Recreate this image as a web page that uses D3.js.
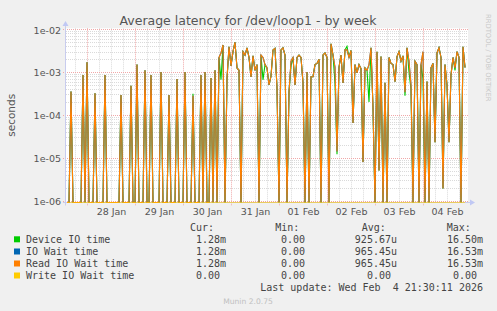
<!DOCTYPE html>
<html>
<head>
<meta charset="utf-8">
<script src="https://cdn.jsdelivr.net/npm/d3@7"></script>
<style>
body { margin: 0; background: #f0f0f0; }
svg text { font-family: "DejaVu Sans", sans-serif; }
svg text.mono { font-family: "DejaVu Sans Mono", monospace; white-space: pre; }
</style>
</head>
<body>
<div id="chart-area"></div>
<script>

// hourly averages, seconds (0 = no activity)
var readWait = [
    0, 0, 3.5e-4, 0, 0, 0, 0, 0, 8.6e-4, 0,
    1.7e-3, 0, 0, 0, 3.2e-4, 0, 0, 0, 0, 8.6e-4,
    0, 0, 0, 0, 0, 0, 0, 2.9e-4, 0, 0,
    0, 0, 4.8e-4, 0, 0, 1.5e-3, 0, 0, 0, 1.1e-3,
    0, 0, 8.6e-4, 0, 0, 0, 0, 1.0e-3, 0, 0,
    0, 2.9e-4, 0, 0, 0, 6.9e-4, 0, 0, 0, 1.0e-3,
    0, 0, 0, 2.8e-4, 0, 0, 0, 8.6e-4, 0, 1.0e-3,
    0, 0, 7.3e-4, 0, 1.1e-3, 0, 2.2e-3, 2.8e-3, 4.3e-3, 0,
    7.3e-4, 3.9e-3, 1.4e-3, 3.0e-3, 5.0e-3, 1.25e-3, 1.1e-3, 0, 3.0e-3, 2.5e-3,
    3.7e-3, 2.2e-3, 7.7e-4, 2.4e-3, 1.1e-3, 1.5e-3, 0, 2.5e-3, 2.2e-3, 1.5e-3,
    1.25e-3, 5.0e-4, 8.0e-4, 3.3e-3, 3.6e-3, 4.3e-4, 0, 3.3e-3, 3.7e-3, 2.5e-3,
    0, 3.4e-4, 1.8e-3, 2.2e-3, 5.0e-4, 2.2e-3, 2.5e-3, 2.2e-3, 5.6e-4, 0,
    1.0e-3, 0, 7.8e-4, 7.8e-4, 1.5e-3, 1.6e-3, 2.0e-3, 0, 2.5e-3, 2.8e-3,
    2.2e-3, 0, 4.6e-3, 2.5e-3, 1.3e-3, 1.4e-5, 1.3e-3, 2.5e-3, 5.6e-4, 3.3e-3,
    3.3e-3, 2.2e-3, 3.2e-3, 6.5e-5, 1.5e-3, 9.6e-4, 1.5e-3, 1.2e-3, 7.9e-6, 1.25e-3,
    1.1e-3, 1.5e-3, 3.7e-3, 1.45e-4, 0, 3.0e-3, 5.0e-6, 2.3e-3, 0, 5.6e-4,
    0, 2.2e-3, 1.6e-3, 1.5e-3, 6.0e-4, 2.3e-3, 3.0e-3, 1.8e-3, 2.4e-3, 3.4e-4,
    3.7e-3, 1.8e-3, 5.0e-4, 0, 1.8e-3, 1.5e-3, 0, 1.5e-3, 3.0e-3, 0,
    6.0e-4, 0, 1.25e-3, 1.6e-3, 2.3e-5, 2.8e-3, 3.7e-3, 2.2e-3, 1.9e-6, 1.5e-3,
    5.0e-4, 2.3e-5, 8.6e-4, 2.2e-3, 1.25e-3, 3.0e-3, 2.2e-3, 0, 3.9e-3, 1.28e-3
];

var deviceTime = [
    0, 0, 3.5e-4, 0, 0, 0, 0, 0, 8.6e-4, 0,
    1.7e-3, 0, 0, 0, 3.2e-4, 0, 0, 0, 0, 8.6e-4,
    0, 0, 0, 0, 0, 0, 0, 2.9e-4, 0, 0,
    0, 0, 4.8e-4, 0, 0, 1.5e-3, 0, 0, 0, 1.1e-3,
    0, 0, 8.6e-4, 0, 0, 0, 0, 1.0e-3, 0, 0,
    0, 2.9e-4, 0, 0, 0, 6.9e-4, 0, 0, 0, 1.0e-3,
    0, 0, 0, 3.1e-4, 0, 0, 0, 8.6e-4, 0, 1.0e-3,
    0, 0, 7.3e-4, 0, 1.1e-3, 0, 2.2e-3, 6.6e-4, 4.3e-3, 0,
    6.6e-4, 3.9e-3, 1.4e-3, 3.0e-3, 5.0e-3, 1.25e-3, 1.1e-3, 0, 3.0e-3, 2.5e-3,
    3.7e-3, 2.2e-3, 7.7e-4, 2.4e-3, 1.1e-3, 1.5e-3, 0, 2.5e-3, 6.6e-4, 1.5e-3,
    1.25e-3, 5.0e-4, 8.0e-4, 3.3e-3, 3.6e-3, 4.3e-4, 0, 3.3e-3, 3.7e-3, 2.5e-3,
    0, 3.4e-4, 1.4e-3, 2.2e-3, 5.0e-4, 2.2e-3, 2.5e-3, 2.2e-3, 5.6e-4, 0,
    1.0e-3, 0, 7.8e-4, 7.8e-4, 1.5e-3, 1.6e-3, 2.0e-3, 0, 2.5e-3, 2.8e-3,
    2.2e-3, 0, 4.6e-3, 2.5e-3, 5.5e-4, 1.2e-5, 1.3e-3, 2.5e-3, 5.6e-4, 3.3e-3,
    4.0e-3, 2.2e-3, 3.2e-3, 6.5e-5, 1.5e-3, 9.6e-4, 1.5e-3, 1.2e-3, 7.9e-6, 1.25e-3,
    1.1e-3, 2.0e-4, 3.7e-3, 1.45e-4, 0, 3.0e-3, 5.0e-6, 2.3e-3, 0, 5.6e-4,
    0, 2.2e-3, 1.6e-3, 1.5e-3, 6.0e-4, 2.3e-3, 3.0e-3, 1.8e-3, 2.4e-3, 2.8e-4,
    3.7e-3, 1.0e-3, 4.0e-4, 0, 1.8e-3, 1.5e-3, 0, 1.5e-3, 7.0e-4, 0,
    6.0e-4, 0, 1.25e-3, 1.6e-3, 2.3e-5, 2.8e-3, 3.7e-3, 2.2e-3, 1.9e-6, 1.5e-3,
    5.0e-4, 2.3e-5, 8.6e-4, 2.2e-3, 1.1e-3, 3.0e-3, 2.2e-3, 0, 3.9e-3, 1.28e-3
];

// IO wait is the same as read wait here (no writes)
var ioWait = readWait;
var writeWait = readWait.map(function(){ return 0; });

var seriesNames = ["Device IO time", "IO Wait time", "Read IO Wait time", "Write IO Wait time"];
var curVals = ["1.28m", "1.28m", "1.28m", "0.00"];
var minVals = ["0.00", "0.00", "0.00", "0.00"];
var avgVals = ["925.67u", "965.45u", "965.45u", "0.00"];
var maxVals = ["16.50m", "16.53m", "16.53m", "0.00"];

var yTicks = [1e-6, 1e-5, 1e-4, 1e-3, 1e-2];
var yTickLabels = ["1e-06", "1e-05", "1e-04", "1e-03", "1e-02"];

var colors = ["#00cc00", "#0066b3", "#ff8000", "#ffcc00"];

// SVG Size
var width = 497,
    height = 311;

var plotLeft = 66, plotRight = 466, plotTop = 29.3, plotBottom = 202.5;

var svg = d3.select("#chart-area").append("svg")
    .attr("width", width)
    .attr("height", height);

var tStart = new Date(Date.UTC(2026, 0, 27, 13, 30)),
    tEnd = new Date(Date.UTC(2026, 1, 4, 21, 30));

var times = d3.utcHour.range(new Date(Date.UTC(2026, 0, 27, 14)), new Date(Date.UTC(2026, 1, 4, 22)));

var xScale = d3.scaleUtc()
    .domain([tStart, tEnd])
    .range([plotLeft, plotRight]);

var yScale = d3.scaleLog()
    .domain([1e-6, 1e-2])
    .range([200.5, plotTop]);

// plot background
svg.append("rect")
    .attr("x", plotLeft)
    .attr("y", plotTop - 1)
    .attr("width", 402)
    .attr("height", plotBottom - plotTop + 1)
    .attr("fill", "#ffffff");

// minor horizontal grid
var minorY = [];
[-6, -5, -4, -3].forEach(function(k){
    for (var m = 2; m <= 9; m++) minorY.push(m * Math.pow(10, k));
});

var grid = svg.append("g").attr("class", "grid");
var minorColor = "#dadada", majorColor = "#f0a8a8";

grid.selectAll("line.hmin")
    .data(minorY)
    .enter()
    .append("line")
    .attr("x1", plotLeft).attr("x2", plotLeft + 402)
    .attr("y1", function(d){ return Math.round(yScale(d)) + 0.5; })
    .attr("y2", function(d){ return Math.round(yScale(d)) + 0.5; })
    .attr("stroke", minorColor)
    .attr("stroke-dasharray", "1,1");

// vertical grid every 6 hours
var sixHours = d3.utcHour.every(6).range(tStart, tEnd);
grid.selectAll("line.vmin")
    .data(sixHours.filter(function(d){ return d.getUTCHours() !== 0; }))
    .enter()
    .append("line")
    .attr("x1", function(d){ return Math.round(xScale(d)) + 0.5; })
    .attr("x2", function(d){ return Math.round(xScale(d)) + 0.5; })
    .attr("y1", plotTop - 1).attr("y2", plotBottom)
    .attr("stroke", minorColor)
    .attr("stroke-dasharray", "1,1");

// major grid
grid.selectAll("line.hmaj")
    .data(yTicks)
    .enter()
    .append("line")
    .attr("x1", plotLeft - 3).attr("x2", plotLeft + 402)
    .attr("y1", function(d){ return Math.round(yScale(d)) + 0.5; })
    .attr("y2", function(d){ return Math.round(yScale(d)) + 0.5; })
    .attr("stroke", majorColor)
    .attr("stroke-dasharray", "1,1");

var midnights = d3.utcDay.range(tStart, tEnd);
grid.selectAll("line.vmaj")
    .data(midnights)
    .enter()
    .append("line")
    .attr("x1", function(d){ return Math.round(xScale(d)) + 0.5; })
    .attr("x2", function(d){ return Math.round(xScale(d)) + 0.5; })
    .attr("y1", plotTop - 1).attr("y2", plotBottom + 3)
    .attr("stroke", majorColor)
    .attr("stroke-dasharray", "1,1");

// axes lines with arrows
svg.append("line")
    .attr("x1", plotLeft - 3).attr("x2", 470)
    .attr("y1", plotBottom).attr("y2", plotBottom)
    .attr("stroke", "#c8ccee");
svg.append("path")
    .attr("d", "M470," + (plotBottom - 3) + "L475," + plotBottom + "L470," + (plotBottom + 3) + "Z")
    .attr("fill", "#c0c8f4");
svg.append("line")
    .attr("x1", plotLeft - 0.5).attr("x2", plotLeft - 0.5)
    .attr("y1", plotBottom + 3).attr("y2", 25)
    .attr("stroke", "#c8ccee");
svg.append("path")
    .attr("d", "M" + (plotLeft - 3.5) + ",26L" + (plotLeft - 0.5) + ",21L" + (plotLeft + 2.5) + ",26Z")
    .attr("fill", "#c0c8f4");

// series lines
var line = d3.line()
    .x(function(d, i){ return xScale(times[i]); })
    .y(function(d){ return d > 0 ? yScale(d) : plotBottom; });

var allSeries = [deviceTime, ioWait, readWait];
svg.selectAll("path.series")
    .data(allSeries)
    .enter()
    .append("path")
    .attr("class", "series")
    .attr("d", line)
    .attr("fill", "none")
    .attr("stroke", function(d, i){ return colors[i]; })
    .attr("stroke-width", 1.1);

svg.append("line")
    .attr("x1", xScale(times[0])).attr("x2", xScale(times[times.length - 1]))
    .attr("y1", yScale(Math.max(writeWait[0], 1e-6)) + 2)
    .attr("y2", yScale(Math.max(writeWait[0], 1e-6)) + 2)
    .attr("stroke", colors[3])
    .attr("stroke-opacity", 0.6);

// y axis labels
var yAxis = d3.axisLeft(yScale)
    .tickValues(yTicks)
    .tickFormat(function(d, i){ return yTickLabels[i]; })
    .tickSize(0)
    .tickPadding(4);

svg.append("g")
    .attr("class", "axis y-axis")
    .attr("transform", "translate(" + (plotLeft - 1) + ",0)")
    .call(yAxis)
    .call(function(g){ g.select(".domain").remove(); })
    .selectAll("text")
    .attr("font-family", "DejaVu Sans")
    .attr("font-size", "9.5px")
    .attr("fill", "#555")
    .attr("dy", "0.4em");

// x axis labels at noon
var noons = midnights.map(function(d){ return d3.utcHour.offset(d, 12); });
var xAxis = d3.axisBottom(xScale)
    .tickValues(noons)
    .tickFormat(d3.utcFormat("%d %b"))
    .tickSize(0)
    .tickPadding(6);

svg.append("g")
    .attr("class", "axis x-axis")
    .attr("transform", "translate(0," + plotBottom + ")")
    .call(xAxis)
    .call(function(g){ g.select(".domain").remove(); })
    .selectAll("text")
    .attr("font-family", "DejaVu Sans")
    .attr("font-size", "9.5px")
    .attr("fill", "#555");

// titles
svg.append("text")
    .attr("x", 248)
    .attr("y", 24.5)
    .attr("text-anchor", "middle")
    .attr("font-size", "12.5px")
    .attr("fill", "#555")
    .text("Average latency for /dev/loop1 - by week");

svg.append("text")
    .attr("transform", "translate(15,115.3) rotate(-90)")
    .attr("text-anchor", "middle")
    .attr("font-size", "10.5px")
    .attr("fill", "#555")
    .text("seconds");

svg.append("text")
    .attr("transform", "translate(485.5,14) rotate(90)")
    .attr("font-size", "6.8px")
    .attr("fill", "#c8c8c8")
    .text("RRDTOOL / TOBI OETIKER");

// legend
var legend = svg.append("g").attr("class", "legend");
var colEnds = [226, 311, 397, 483];
var headers = ["Cur:", "Min:", "Avg:", "Max:"];
var headerX = [190, 275.3, 361.7, 446.7];

legend.selectAll("text.head")
    .data(headers)
    .enter()
    .append("text")
    .attr("class", "mono")
    .attr("x", function(d, i){ return headerX[i]; })
    .attr("y", 227.3)
    .attr("dy", "0.35em")
    .attr("font-size", "10px")
    .attr("fill", "#444")
    .text(function(d){ return d; });

var rowY = [239.3, 251.5, 263.5, 275.5];

seriesNames.forEach(function(name, i){
    legend.append("rect")
        .attr("x", 14).attr("y", rowY[i] - 3)
        .attr("width", 6).attr("height", 6)
        .attr("fill", colors[i]);
    legend.append("text")
        .attr("class", "mono")
        .attr("x", 26).attr("y", rowY[i])
        .attr("dy", "0.35em")
        .attr("font-size", "10px")
        .attr("fill", "#444")
        .text(name);
    [curVals[i], minVals[i], avgVals[i], maxVals[i]].forEach(function(v, j){
        var hasUnit = /[a-z]$/i.test(v);
        legend.append("text")
            .attr("class", "mono")
            .attr("x", colEnds[j] - (hasUnit ? 0 : 6))
            .attr("y", rowY[i])
            .attr("dy", "0.35em")
            .attr("text-anchor", "end")
            .attr("font-size", "10px")
            .attr("fill", "#444")
            .text(v);
    });
});

legend.append("text")
    .attr("class", "mono")
    .attr("x", 483).attr("y", 287.7)
    .attr("dy", "0.35em")
    .attr("text-anchor", "end")
    .attr("font-size", "10px")
    .attr("fill", "#444")
    .text("Last update: Wed Feb  4 21:30:11 2026");

svg.append("text")
    .attr("x", 248).attr("y", 303.5)
    .attr("text-anchor", "middle")
    .attr("font-size", "7.6px")
    .attr("fill", "#c0c0c0")
    .text("Munin 2.0.75");

</script>
</body>
</html>
